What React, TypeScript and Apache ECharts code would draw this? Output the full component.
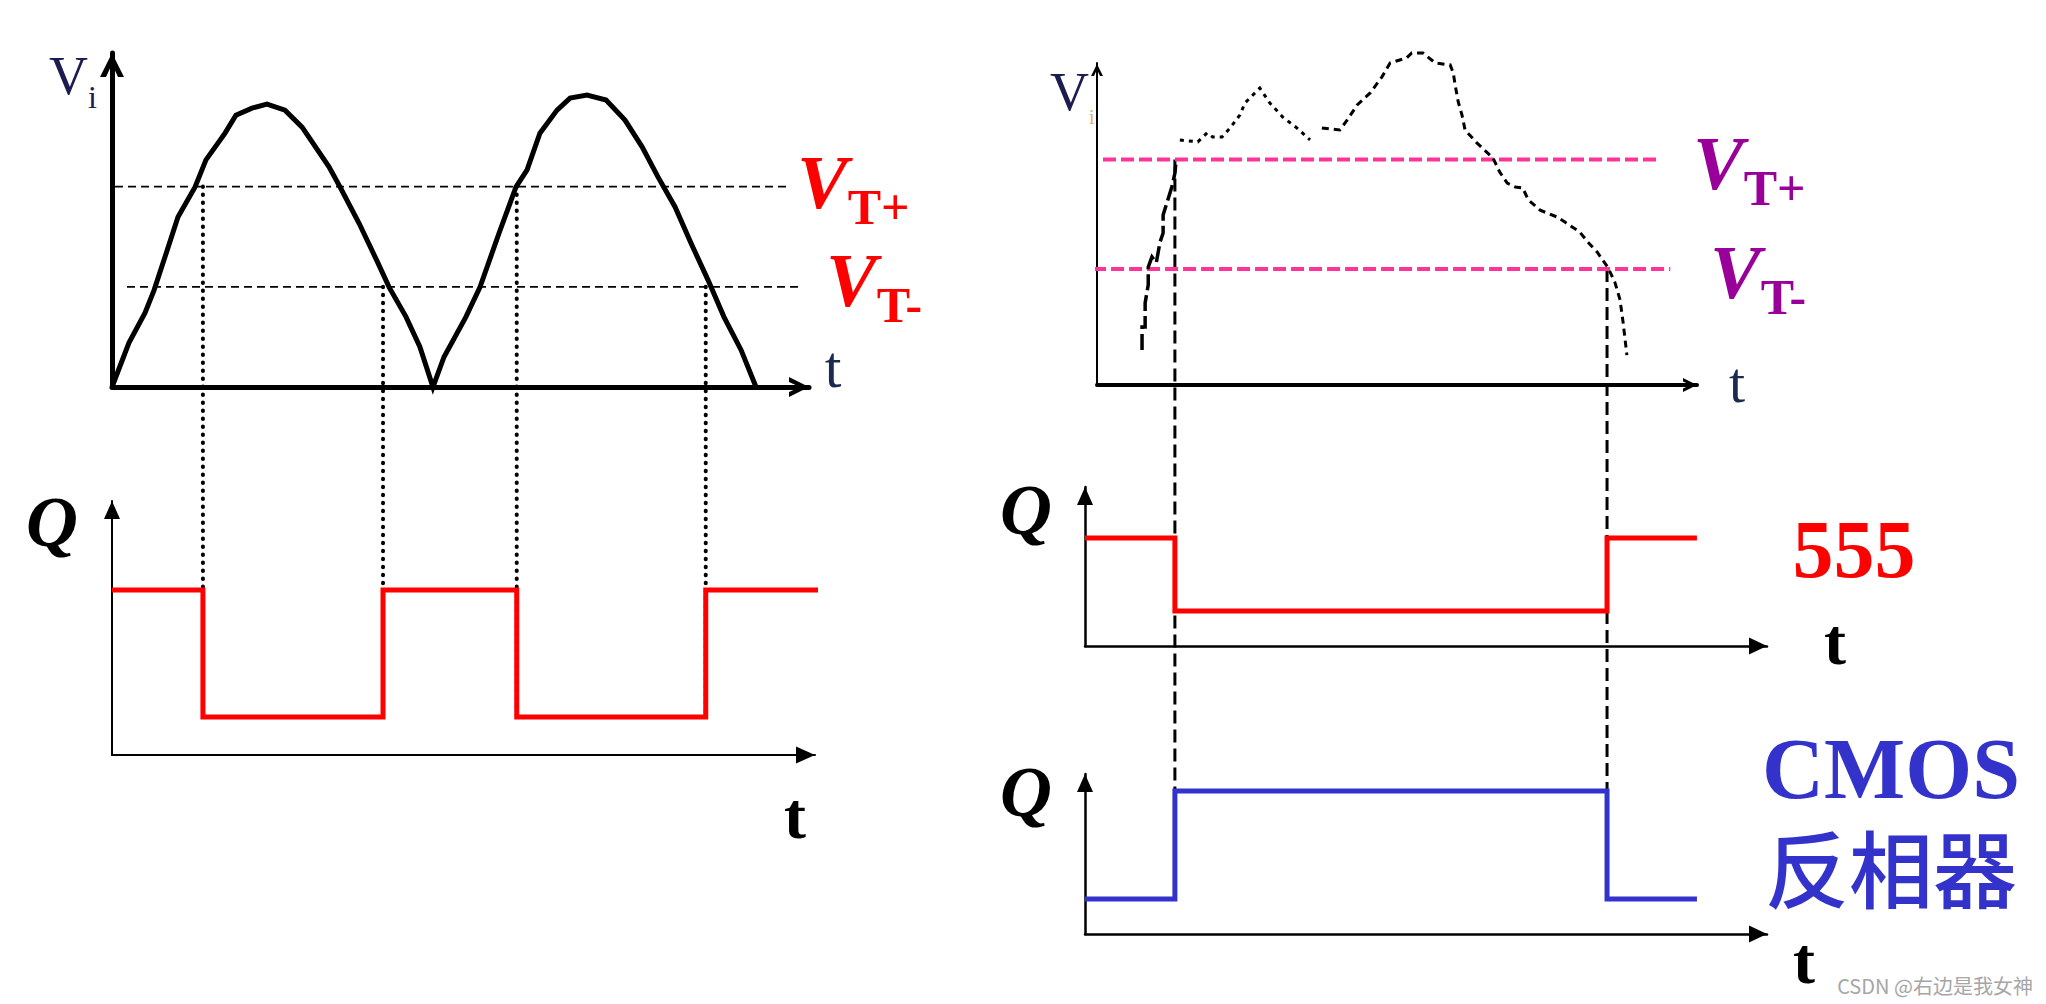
import React, { useEffect, useRef } from "react";
import * as echarts from "echarts";

// ---------- Left panel data (time in arbitrary units, voltage 0..100) ----------
const leftT = [0, 9.5, 18.5, 23.6, 29.7, 37, 46.6, 52.7, 63.4, 69.5, 78.5, 86.9, 97, 106.6, 121.7, 127.9, 138.5, 149.2, 155.4, 164.9, 172.7, 180, 186.2, 198.5, 206.4, 217.1, 226.6, 232.8, 240, 249.6, 256.9, 266.4, 277.1, 287.7, 297.3, 306.2, 315.8, 324.7, 334.3, 343.2, 352.8, 361.2];
const leftV = [0, 13.2, 22.2, 29, 38.9, 50.9, 59.9, 68, 76, 81.4, 83.5, 84.7, 82.9, 77.8, 65.9, 59.9, 49.1, 37.1, 29.9, 21, 12, 0, 9, 21, 29.9, 46.1, 59.9, 65, 76, 82.9, 86.5, 87.4, 85.9, 79.9, 71.9, 62.9, 53.9, 43.1, 32, 21, 11.1, 0];
const leftVTPlus = 60;
const leftVTMinus = 30;
const leftVTPlusSpan = [1.7, 378.6];
const leftVTMinusSpan = [8.4, 387];
const leftSwitchT = [51, 152, 227, 333];
const leftLinkFromV = [60, 30, 60, 30];
const leftLinkToQ = [1, 0, 0, 0];
const leftQStart = 1;
const leftQEnd = 401;

// ---------- Right panel data ----------
const rightRise = [[9.2, 10.9], [9.2, 18], [9.7, 18], [9.7, 25.5], [10.2, 31.1], [10.2, 36.6], [10.8, 39.8], [11.5, 38], [12.1, 44.4], [12.6, 47.2], [12.6, 52.8], [13.2, 56.5], [14, 61.5], [14.5, 65.8], [14.7, 69.9]];
const rightHump = [[15.3, 76.1], [18.2, 75.5], [19.7, 78.3], [20.6, 77], [22.1, 77], [23.4, 79.8], [25, 83.9], [25.8, 87.6], [28.2, 92.2], [29.8, 87.6], [31.9, 83.2], [34.2, 79.8], [36.3, 76.1]];
const rightFall = [[38.2, 79.8], [41.1, 79.2], [42.3, 82.3], [43.9, 87], [46, 90.7], [47.9, 95.7], [49.2, 100], [51.9, 101.6], [52.7, 103.1], [54.5, 103.1], [56.5, 100], [58.9, 99.4], [59.4, 96.9], [59.7, 93.2], [60.2, 87.9], [60.8, 83.9], [61.3, 79.2], [63.2, 75.2], [65.8, 70.5], [66.9, 66.1], [68.1, 62.7], [69.4, 61.5], [70.6, 61.2], [71.5, 57.5], [73.4, 54.3], [76.1, 52.2], [77.4, 50.6], [79.8, 47.5], [81.1, 44.4], [82.6, 41.3], [84.4, 36.3], [85.5, 31.7], [86.3, 26.4], [86.8, 19.3], [87.4, 9.3]];
const rightVTPlus = 70;
const rightVTMinus = 36;
const rightVTPlusSpan = [2.9, 92.7];
const rightVTMinusSpan = [1.3, 94.4];
const rightSwitchT = [14.5, 84.2];
const rightLinkFromV = [70, 36];
const rightLinkToQ = [1, 1];
const q555Start = 1;
const qCmosStart = 0;
const rightQEnd = 98.7;

// ---------- helpers ----------
const LKX = 1.783; // px per time unit, left panel
const RKX = 6.2; // px per time unit, right panel
const CHEVRON = "path://M0,24 L12,0 L24,24 L18,24 L12,11 L6,24 Z";
const SERIF = '"Liberation Serif", "Times New Roman", serif';

function steps(switches: number[], start: number, end: number) {
  let q = start;
  const pts: number[][] = [[0, q]];
  switches.forEach((s) => {
    pts.push([s, q]);
    q = 1 - q;
    pts.push([s, q]);
  });
  pts.push([end, q]);
  return pts;
}

function axis(gridIndex: number, min: number, max: number, width: number, sym: string, size: number[]) {
  return {
    type: "value",
    gridIndex,
    min,
    max,
    axisLine: {
      show: true,
      onZero: false,
      symbol: ["none", sym],
      symbolSize: size,
      symbolOffset: [0, -size[1] / 2],
      lineStyle: { color: "#000", width },
    },
    axisTick: { show: false },
    axisLabel: { show: false },
    splitLine: { show: false },
  };
}

function lineSeries(x: number, data: number[][], color: string, width: number, type: any) {
  return {
    type: "line",
    xAxisIndex: x,
    yAxisIndex: x,
    data,
    symbol: "none",
    clip: false,
    silent: true,
    lineStyle: { color, width, type, cap: "butt", join: "miter" },
  };
}

export default function App() {
  const ref = useRef<HTMLDivElement>(null);
  useEffect(() => {
    document.body.style.margin = "0";
    document.body.style.overflow = "hidden";
    const chart = echarts.init(ref.current!, null, { renderer: "svg" });

    const grids = [
      { left: 112, top: 53, width: 697, height: 334 },
      { left: 112, top: 501, width: 703, height: 254 },
      { left: 1097, top: 63, width: 600, height: 322 },
      { left: 1085, top: 487, width: 682, height: 159 },
      { left: 1085, top: 774, width: 682, height: 160 },
    ];
    const r0 = (1097 - 1085) / RKX;

    const xAxes = [
      axis(0, 0, 697 / LKX, 5, CHEVRON, [26, 20]),
      axis(1, 0, 703 / LKX, 2, "triangle", [17, 19]),
      axis(2, r0, r0 + 600 / RKX, 4, CHEVRON, [18, 14]),
      axis(3, 0, 682 / RKX, 2.5, "triangle", [17, 18]),
      axis(4, 0, 682 / RKX, 2.5, "triangle", [17, 18]),
    ];
    const yAxes = [
      axis(0, 0, 100, 5, CHEVRON, [24, 24]),
      axis(1, -0.3, 1.7, 2, "triangle", [16, 18]),
      axis(2, 0, 100, 2, CHEVRON, [12, 14]),
      axis(3, -0.48, -0.48 + 159 / 73, 2.5, "triangle", [16, 18]),
      axis(4, -0.324, -0.324 + 160 / 108, 2.5, "triangle", [16, 18]),
    ];

    const sine = leftT.map((t, i) => [t, leftV[i]]);

    const series = [
      lineSeries(0, sine, "#000", 5, "solid"),
      lineSeries(0, [[leftVTPlusSpan[0], leftVTPlus], [leftVTPlusSpan[1], leftVTPlus]], "#000", 1.8, [8, 5]),
      lineSeries(0, [[leftVTMinusSpan[0], leftVTMinus], [leftVTMinusSpan[1], leftVTMinus]], "#000", 1.8, [8, 5]),
      lineSeries(1, steps(leftSwitchT, leftQStart, leftQEnd), "#ff0000", 5, "solid"),
      lineSeries(2, [[rightVTPlusSpan[0], rightVTPlus], [rightVTPlusSpan[1], rightVTPlus]], "#ff3399", 4, [13, 5]),
      lineSeries(2, [[rightVTMinusSpan[0], rightVTMinus], [rightVTMinusSpan[1], rightVTMinus]], "#ff3399", 4, [13, 5]),
      lineSeries(2, rightRise, "#000", 3.5, [16, 5]),
      lineSeries(2, rightHump, "#000", 3, [4, 5]),
      lineSeries(2, rightFall, "#000", 3, [7, 5]),
      lineSeries(3, steps(rightSwitchT, q555Start, rightQEnd), "#ff0000", 5, "solid"),
      lineSeries(4, steps(rightSwitchT, qCmosStart, rightQEnd), "#3333cc", 5, "solid"),
    ];

    chart.setOption({
      animation: false,
      backgroundColor: "#fff",
      grid: grids,
      xAxis: xAxes,
      yAxis: yAxes,
      series,
    });

    const px = (g: number, pt: number[]) => chart.convertToPixel({ gridIndex: g } as any, pt) as number[];

    const elements: any[] = [];
    leftSwitchT.forEach((t, i) => {
      const a = px(0, [t, leftLinkFromV[i]]);
      const b = px(1, [t, leftLinkToQ[i]]);
      elements.push({
        type: "line",
        z: 1,
        shape: { x1: a[0], y1: a[1], x2: b[0], y2: b[1] },
        style: { stroke: "#000", lineWidth: 4, lineDash: [0.5, 7.5], lineCap: "round" },
      });
    });
    rightSwitchT.forEach((t, i) => {
      const a = px(2, [t, rightLinkFromV[i]]);
      const b = px(4, [t, rightLinkToQ[i]]);
      elements.push({
        type: "line",
        z: 1,
        shape: { x1: a[0], y1: a[1], x2: b[0], y2: b[1] },
        style: { stroke: "#000", lineWidth: 3, lineDash: [13, 6] },
      });
    });

    const txt = (text: string, x: number, y: number, font: string, fill: string, align = "center") => ({
      type: "text",
      z: 5,
      x,
      y,
      style: { text, font, fill, align, verticalAlign: "middle" },
    });

    // main letter with a lowered subscript, as one rich text
    const sub = (x: number, y: number, main: string, mainFont: string, s: string, subFont: string, subH: number, fill: string, subFill?: string) => ({
      type: "text",
      z: 5,
      x,
      y,
      style: {
        text: `{m|${main}}{s|${s}}`,
        align: "left",
        verticalAlign: "middle",
        rich: {
          m: { font: mainFont, fill, verticalAlign: "bottom" },
          s: { font: subFont, fill: subFill || fill, verticalAlign: "bottom", height: subH, lineHeight: subH },
        },
      },
    });

    elements.push(
      sub(49, 76, "V", `54px ${SERIF}`, "i", `32px ${SERIF}`, 12, "#1c1c50"),
      txt("t", 833, 367, `60px ${SERIF}`, "#1c2a50"),
      sub(797, 182, "V", `italic bold 76px ${SERIF}`, "T+", `bold 50px ${SERIF}`, 26, "#ff0000"),
      sub(826, 280, "V", `italic bold 76px ${SERIF}`, "T-", `bold 50px ${SERIF}`, 26, "#ff0000"),
      txt("Q", 52, 522, `italic bold 72px ${SERIF}`, "#000"),
      txt("t", 795, 815, `bold 66px ${SERIF}`, "#000"),

      sub(1050, 92, "V", `54px ${SERIF}`, "i", `20px ${SERIF}`, 4, "#1c1c50", "#e0b070"),
      txt("t", 1737, 382, `58px ${SERIF}`, "#1c2a50"),
      sub(1693, 163, "V", `italic bold 76px ${SERIF}`, "T+", `bold 50px ${SERIF}`, 26, "#990099"),
      sub(1710, 272, "V", `italic bold 76px ${SERIF}`, "T-", `bold 50px ${SERIF}`, 26, "#990099"),
      txt("Q", 1026, 510, `italic bold 72px ${SERIF}`, "#000"),
      txt("Q", 1026, 792, `italic bold 72px ${SERIF}`, "#000"),
      txt("555", 1854, 549, `bold 82px ${SERIF}`, "#ff0000"),
      txt("t", 1835, 641, `bold 66px ${SERIF}`, "#000"),
      {
        type: "text",
        z: 5,
        x: 1891,
        y: 817,
        style: {
          text: "{a|CMOS}\n{b|反相器}",
          align: "center",
          verticalAlign: "middle",
          rich: {
            a: { font: `bold 86px ${SERIF}`, fill: "#3333cc", lineHeight: 96, height: 96, align: "center" },
            b: { font: `500 84px "Noto Sans CJK SC"`, fill: "#3333cc", lineHeight: 96, height: 96, align: "center" },
          },
        },
      },
      txt("t", 1804, 960, `bold 66px ${SERIF}`, "#000"),
      txt("CSDN @右边是我女神", 1935, 985, `20px "Noto Sans CJK SC"`, "#a6a6a6")
    );

    chart.setOption({ graphic: elements });

    return () => chart.dispose();
  }, []);
  return <div ref={ref} style={{ width: 2046, height: 1004 }} />;
}
